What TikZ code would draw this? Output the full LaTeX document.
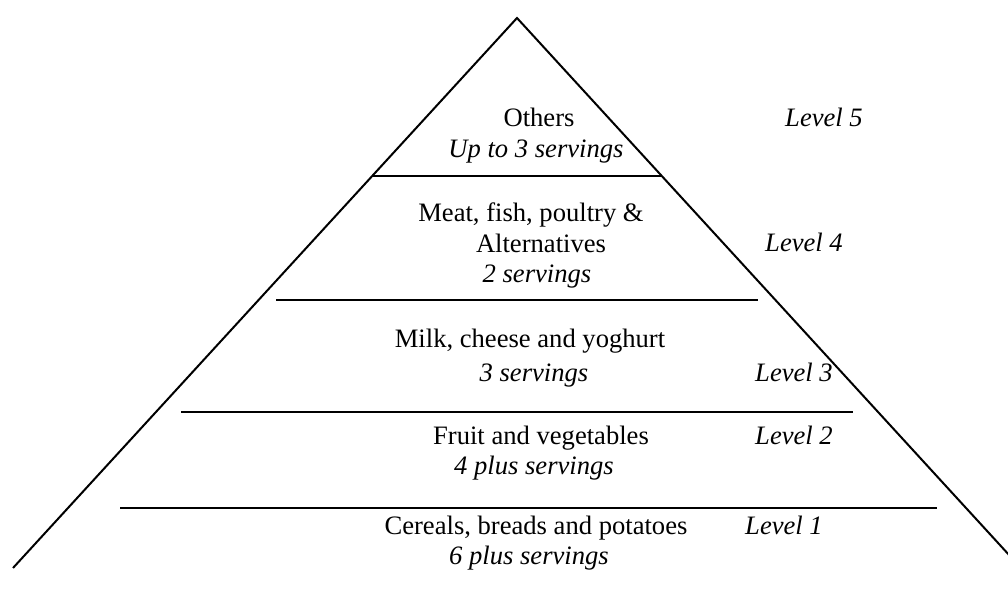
\documentclass[tikz,border=0pt]{standalone}
\usepackage{fontspec}
\setmainfont{Liberation Serif}
\begin{document}
\begin{tikzpicture}[x=0.5pt,y=-0.5pt,line width=1pt]
    \tikzstyle{food}=[anchor=base,inner sep=0pt,font=\fontsize{13.3}{16}\selectfont]
    \tikzstyle{serv}=[food,font=\fontsize{13.3}{16}\selectfont\itshape]

    \useasboundingbox (0,0) rectangle (1008,592);
    \clip (0,0) rectangle (1008,592);

    % pyramid and level bands
    \coordinate (apex) at (517,18);
    \coordinate (baseL) at (13,568);
    \coordinate (baseR) at (1021,568);
    \draw (baseL) -- (apex) -- (baseR);
    \foreach \l/\r/\y in {372/662/176, 276/758/300, 181/853/412, 120/937/508} {
        \draw (\l,\y) -- (\r,\y);
    }

    \foreach \n/\x/\y/\txt in {others/539/127/Others, meat/531/222/{Meat, fish, poultry \&},
        alt/541/253/Alternatives, milk/530/348/{Milk, cheese and yoghurt},
        fruit/541/445/Fruit and vegetables, cereal/536/535/{Cereals, breads and potatoes}} {
        \node[food] (\n) at (\x,\y) {\txt};
    }
    \foreach \n/\x/\y/\txt in {upto/536/158/Up to 3 servings, two/537/283/2 servings,
        three/534/382/3 servings, four/534/475/4 plus servings, six/529/565/6 plus servings} {
        \node[serv] (\n) at (\x,\y) {\txt};
    }

    % level labels
    \foreach \i/\x/\y in {5/824/127, 4/804/252, 3/794/382, 2/794/445, 1/784/535} {
        \node[serv] (lvl\i) at (\x,\y) {Level \i};
    }
\end{tikzpicture}
\end{document}
